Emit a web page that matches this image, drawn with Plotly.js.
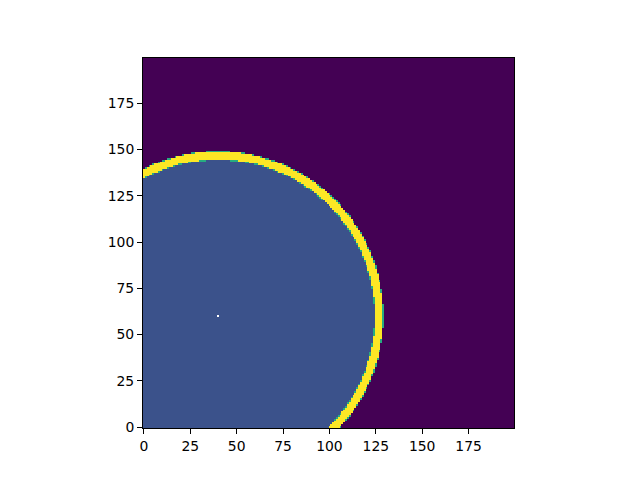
<!DOCTYPE html>
<html>
<head>
<meta charset="utf-8">
<script src="https://cdn.plot.ly/plotly-3.0.1.min.js"></script>
<style>html,body{margin:0;padding:0;background:#fff;}#chart{width:640px;height:480px;}</style>
</head>
<body>
<div id="chart"></div>
<script>
// Grid: 200 x 200 cells, origin at lower left
var gridSize = 200;
var centerX = 40;
var centerY = 60;
var innerRadius = 84.5;
var outerRadius = 89;
var insideValue = 0.25;
var ringValue = 1.0;
var edgeValue = 0.62;
var outsideValue = 0.0;
var tickVals = [0, 25, 50, 75, 100, 125, 150, 175];
var tickText = ["0", "25", "50", "75", "100", "125", "150", "175"];

var z = [];
for (var j = 0; j < gridSize; j++) {
  var row = [];
  for (var i = 0; i < gridSize; i++) {
    var d = Math.sqrt((i - centerX) * (i - centerX) + (j - centerY) * (j - centerY));
    var v;
    if (d < innerRadius - 0.25) v = insideValue;
    else if (d < innerRadius + 0.15) v = edgeValue;
    else if (d < outerRadius - 0.15) v = ringValue;
    else if (d < outerRadius + 0.25) v = edgeValue;
    else v = outsideValue;
    if (i === centerX && j === centerY) v = null;
    row.push(v);
  }
  z.push(row);
}

var trace = {
  type: 'heatmap',
  z: z,
  colorscale: 'Viridis',
  zmin: 0,
  zmax: 1,
  zsmooth: false,
  showscale: false,
  hoverinfo: 'skip'
};

var axisCommon = {
  range: [-0.5, gridSize - 0.5],
  tickvals: tickVals,
  ticktext: tickText,
  ticks: 'outside',
  ticklen: 5,
  tickwidth: 1,
  tickcolor: '#000',
  showline: true,
  mirror: true,
  linecolor: '#000',
  linewidth: 1,
  showgrid: false,
  zeroline: false,
  tickfont: {family: 'DejaVu Sans', size: 13.9, color: '#000'}
};

var layout = {
  width: 640,
  height: 480,
  margin: {l: 143, r: 126, t: 58, b: 52},
  paper_bgcolor: '#fff',
  plot_bgcolor: '#fff',
  xaxis: Object.assign({}, axisCommon),
  yaxis: Object.assign({}, axisCommon),
  showlegend: false
};

Plotly.newPlot('chart', [trace], layout, {staticPlot: true, displayModeBar: false});
</script>
</body>
</html>
